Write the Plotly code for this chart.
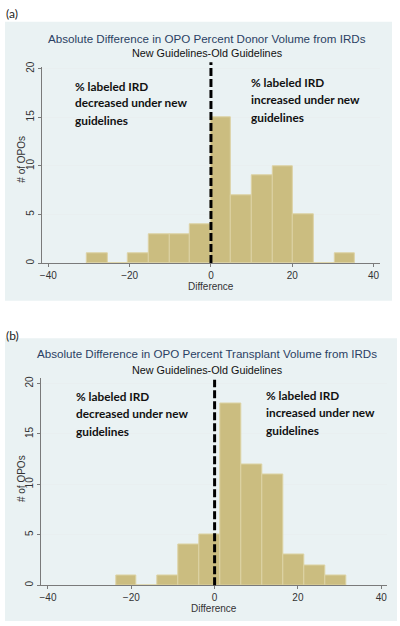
import plotly.graph_objects as go

# ---------------- data ----------------
# Panel (a): Absolute difference in OPO percent donor volume from IRDs
bin_width_a = 5.07
bin_starts_a = [-30.5, -25.43, -20.36, -15.29, -10.22, -5.15, -0.08, 4.99, 10.06, 15.13, 20.2, 25.27, 30.34]
counts_a = [1, 0, 1, 3, 3, 4, 15, 7, 9, 10, 5, 0, 1]

# Panel (b): Absolute difference in OPO percent transplant volume from IRDs
bin_width_b = 5.02
bin_starts_b = [-23.7, -18.68, -13.66, -8.64, -3.62, 1.4, 6.42, 11.44, 16.46, 21.48, 26.5]
counts_b = [1, 0, 1, 4, 5, 18, 12, 11, 3, 2, 1]

x_ticks = [-40, -20, 0, 20, 40]
y_ticks = [0, 5, 10, 15, 20]

titles = ["Absolute Difference in OPO Percent Donor Volume from IRDs",
          "Absolute Difference in OPO Percent Transplant Volume from IRDs"]
subtitle = "New Guidelines-Old Guidelines"
panel_labels = ["(a)", "(b)"]
left_note = ["% labeled IRD", "decreased under new", "guidelines"]
right_note = ["% labeled IRD", "increased under new", "guidelines"]
y_title = "# of OPOs"
x_title = "Difference"
ref_line_x = 0

# ---------------- styling ----------------
W, H = 400, 626
BAR = "#cbbd80"
BAR_EDGE = "#ddd3a4"
PANEL_BG = "#eaf2f3"
TITLE_C = "#2b3f63"
TICK_C = "#333333"
AXIS_C = "#7a7a7a"
GRID_C = "#e9eff0"

def py(px):
    return 1 - px / H

def px_(x):
    return x / W

fig = go.Figure()

panels = [
    dict(starts=bin_starts_a, counts=counts_a, width=bin_width_a, xa="x", ya="y",
         xdom=[40 / W, 380 / W], ydom=[py(260), py(62)], xr=[-41.6, 41.6], yr=[0, 20.15],
         bg=(3, 392, 16, 298), label_y=8, title_y=33, sub_y=48,
         ytitle_x=19.5, ytitle_y=155, xtitle_y=283.5, line_top=57,
         left=(71, [81, 98, 115.5]), right=(248.5, [77.5, 95, 113])),
    dict(starts=bin_starts_b, counts=counts_b, width=bin_width_b, xa="x2", ya="y2",
         xdom=[39.5 / W, 387 / W], ydom=[py(585.7), py(376.7)], xr=[-41.6, 41.4], yr=[0, 20.5],
         bg=(3, 397, 336, 622), label_y=333, title_y=351.5, sub_y=368,
         ytitle_x=19.5, ytitle_y=478, xtitle_y=609, line_top=378,
         left=(72, [395, 412.5, 430]), right=(263.5, [394, 411.5, 429])),
]

shapes = []
annotations = []
for i, p in enumerate(panels):
    centers = [s + p["width"] / 2 for s in p["starts"]]
    fig.add_trace(go.Bar(
        x=centers, y=p["counts"], width=[p["width"]] * len(centers),
        marker=dict(color=BAR, line=dict(color=BAR_EDGE, width=1)),
        xaxis=p["xa"], yaxis=p["ya"], showlegend=False, hoverinfo="x+y"))

    ax_suffix = "" if i == 0 else "2"
    fig.update_layout(**{
        "xaxis" + ax_suffix: dict(
            domain=p["xdom"], range=p["xr"], anchor=p["ya"], tickvals=x_ticks,
            ticks="outside", ticklen=3, tickcolor=AXIS_C, showline=True, linecolor=AXIS_C,
            linewidth=1, showgrid=False, zeroline=False,
            tickfont=dict(family="Liberation Sans, Arial", size=10, color=TICK_C)),
        "yaxis" + ax_suffix: dict(
            domain=p["ydom"], range=p["yr"], anchor=p["xa"], tickvals=y_ticks,
            ticks="outside", ticklen=3, tickcolor=AXIS_C, showline=True, linecolor=AXIS_C,
            linewidth=1, showgrid=True, gridcolor=GRID_C, gridwidth=1, zeroline=False,
            tickangle=-90,
            tickfont=dict(family="Liberation Sans, Arial", size=10, color=TICK_C)),
    })

    x0, x1, y0, y1 = p["bg"]
    shapes.append(dict(type="rect", xref="paper", yref="paper",
                       x0=px_(x0), x1=px_(x1), y0=py(y1), y1=py(y0),
                       fillcolor=PANEL_BG, line=dict(width=0), layer="below"))
    # dashed reference line at x = 0
    shapes.append(dict(type="line", xref=p["xa"], yref="paper",
                       x0=ref_line_x, x1=ref_line_x, y0=p["ydom"][0], y1=py(p["line_top"]),
                       line=dict(color="black", width=3, dash="8px,3px"), layer="above"))

    annotations.append(dict(text=panel_labels[i], xref="paper", yref="paper",
                            x=px_(2), y=py(p["label_y"]), xanchor="left", yanchor="middle",
                            showarrow=False, font=dict(family="Lato, Liberation Sans", size=12, color="#222")))
    annotations.append(dict(text=titles[i], xref="paper", yref="paper",
                            x=px_(206.5), y=py(p["title_y"]), xanchor="center", yanchor="middle",
                            showarrow=False, font=dict(family="Liberation Sans, Arial", size=11.6, color=TITLE_C)))
    annotations.append(dict(text=subtitle, xref="paper", yref="paper",
                            x=px_(206.5), y=py(p["sub_y"]), xanchor="center", yanchor="middle",
                            showarrow=False, font=dict(family="Liberation Sans, Arial", size=10.8, color="#111")))
    annotations.append(dict(text=y_title, xref="paper", yref="paper", textangle=-90,
                            x=px_(p["ytitle_x"]), y=py(p["ytitle_y"]), xanchor="center", yanchor="middle",
                            showarrow=False, font=dict(family="Liberation Sans, Arial", size=10, color=TICK_C)))
    annotations.append(dict(text=x_title, xref="paper", yref="paper",
                            x=px_(210.5 if i == 0 else 213.5), y=py(p["xtitle_y"]), xanchor="center", yanchor="middle",
                            showarrow=False, font=dict(family="Liberation Sans, Arial", size=10, color=TICK_C)))
    for note, (nx, ys) in ((left_note, p["left"]), (right_note, p["right"])):
        for line, yy in zip(note, ys):
            annotations.append(dict(text="<b>" + line + "</b>", xref="paper", yref="paper",
                                    x=px_(nx), y=py(yy), xanchor="left", yanchor="middle",
                                    showarrow=False,
                                    font=dict(family="Lato, Open Sans", size=11.8, color="#111")))

fig.update_layout(
    width=W, height=H, margin=dict(l=0, r=0, t=0, b=0),
    paper_bgcolor="white", plot_bgcolor="white",
    shapes=shapes, annotations=annotations, bargap=0, showlegend=False,
)

fig.write_html("out.html", config={"displayModeBar": False},
               post_script="document.body.style.margin='0';document.body.style.padding='0';")
